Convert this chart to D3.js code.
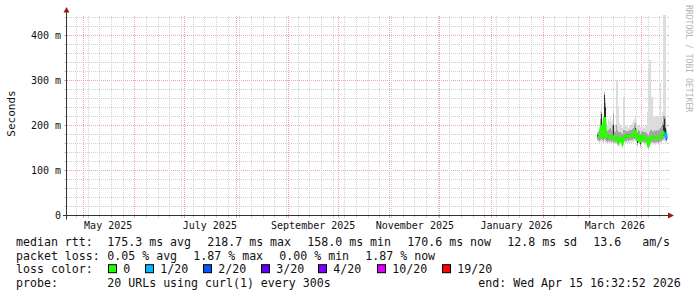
<!DOCTYPE html>
<html><head><meta charset="utf-8">
<script src="https://cdn.jsdelivr.net/npm/d3@7"></script>
<style>
html,body{margin:0;padding:0;background:#fff;}
svg{display:block;}
text{font-family:"DejaVu Sans Mono",monospace;}
</style>
</head><body>
<svg id="c" width="697" height="297"></svg>
<script>
// ---------- data ----------
const endTime = new Date(Date.UTC(2026, 3, 15, 16, 32, 52));
const spanDays = 360;
const dataStart = new Date(Date.UTC(2026, 2, 5, 6, 56, 52)); // first consolidated sample
const stepHours = 14.4;
const yMaxSec = 0.4444;

// median rtt (ms) per consolidated step
const median = [
 176,175,176,178,200,177,176,218.7,180,175,
 174,175,176,175,174,176,170,172,174,173,
 166,163,168,172,170,163,171,175,176,176,
 177,176,177,178,177,178,180,185,187,176,
 166,175,176,162,172,176,174,171,173,170,
 162,158,165,172,174,173,172,173,172,174,
 173,172,174,175,176,180,185,186,184,170.6];
// smoke bands (ms): inner, middle, outer (min/max)
const innerLo = [
 174,173,173,175,176,174,173,176,175,172,
 171,172,173,172,171,173,167,169,171,170,
 162,160,165,169,167,158,168,172,173,173,
 174,173,174,175,174,175,176,177,178,171,
 160,171,173,158,168,173,171,168,170,167,
 157,154,161,169,171,170,169,170,169,171,
 170,169,171,172,173,175,177,178,173,168];
const innerHi = [
 178,177,179,188,226,188,179,268,240,178,
 177,178,179,178,177,180,200,175,177,176,
 170,166,171,175,173,166,174,178,179,179,
 180,179,180,181,180,182,185,190,194,180,
 170,178,179,168,175,179,177,174,176,173,
 166,163,168,175,177,176,175,176,175,177,
 176,175,177,178,180,188,200,215,195,178];
const midLo = [
 168,167,166,168,170,168,166,170,168,165,
 164,165,166,165,164,166,162,163,164,163,
 158,156,160,163,161,154,162,165,166,166,
 167,166,167,168,167,168,169,170,171,165,
 156,164,166,154,162,166,164,162,163,161,
 153,150,156,162,164,163,162,163,162,164,
 163,162,164,165,166,168,170,172,168,165];
const midHi = [
 184,186,190,215,230,200,188,272,250,190,
 188,190,192,195,190,200,227,188,186,200,
 190,185,185,186,184,180,190,190,188,188,
 188,187,190,190,189,192,195,200,205,192,
 185,190,188,182,186,188,186,185,186,184,
 180,178,185,190,190,188,186,190,188,190,
 188,190,192,195,198,205,220,220,218,190];
const outLo = [
 165,163,162,163,165,163,162,165,164,160,
 160,160,161,160,159,161,158,158,160,158,
 154,152,155,158,156,150,157,160,161,161,
 162,161,162,163,162,163,164,165,166,160,
 152,159,161,150,157,161,159,157,158,156,
 149,146,152,157,159,158,157,158,157,159,
 158,157,159,160,161,163,165,166,164,162];
const outHi = [
 188,190,196,232,240,210,196,276,260,205,
 200,215,210,218,205,212,232,200,198,300,
 300,240,205,200,198,195,263,263,200,198,
 196,195,200,202,198,205,210,215,218,205,
 200,200,198,196,198,198,196,195,198,200,
 230,325,345,345,263,263,220,218,218,220,
 218,220,222,294,222,230,445,445,445,200];
// lost pings out of 20 per step
const lossCount = [
 0,0,0,0,0,0,0,0,0,0, 0,0,0,0,0,0,0,0,0,0,
 0,0,0,0,0,0,0,0,0,0, 0,0,0,0,0,0,0,0,0,0,
 0,0,0,0,0,0,0,0,0,0, 0,0,0,0,0,0,0,0,0,0,
 0,0,0,0,0,0,0,0,1,1];

const yTicks = [0, 0.1, 0.2, 0.3, 0.4];
const yTickLabels = ["0", "100 m", "200 m", "300 m", "400 m"];
const xLabelDates = ["2025-05-01","2025-07-01","2025-09-01","2025-11-01","2026-01-01","2026-03-01"];
const xLabelTexts = ["May 2025","July 2025","September 2025","November 2025","January 2026","March 2026"];

const lossLabels = ["0","1/20","2/20","3/20","4/20","10/20","19/20"];
const lossColors = ["#26ff00","#00b8ff","#0059ff","#5e00ff","#7e00ff","#dd00ff","#ff0000"];
const lossThresh = [0,1,2,3,4,10,19];

const rttStats = ["175.3 ms avg","218.7 ms max","158.0 ms min","170.6 ms now","12.8 ms sd","13.6   am/s"];
const lossStats = ["0.05 % avg","1.87 % max","0.00 % min","1.87 % now"];
const probeText = "20 URLs using curl(1) every 300s";
const endText = "end: Wed Apr 15 16:32:52 2026";

// ---------- drawing ----------
const svg = d3.select("#c");
const startTime = new Date(endTime.getTime() - spanDays*864e5);
const L = 66, R = 666, B = 215.5, T = 15.5;
const x = d3.scaleUtc().domain([startTime, endTime]).range([L, R]);
const y = d3.scaleLinear().domain([0, yMaxSec]).range([B, T]);
const stepMs = stepHours*3600e3;
const times = median.map((_, i) => new Date(dataStart.getTime() + i*stepMs));

const gGrid = svg.append("g").attr("shape-rendering", "crispEdges");
const minorCol = "#d2d2d2", majorCol = "#eda6a6";
// horizontal grid
d3.range(1, 23).map(k => k*0.02).forEach(v => {
  const isMajor = Math.abs(v*10 - Math.round(v*10)) < 1e-6;
  const yy = Math.floor(y(v)) + 0.5;
  const c = isMajor ? majorCol : minorCol;
  gGrid.append("line").attr("x1", L+1).attr("x2", R+1).attr("y1", yy).attr("y2", yy)
    .attr("stroke", c).attr("stroke-dasharray", "1,1");
  gGrid.append("line").attr("x1", L-2).attr("x2", L).attr("y1", yy).attr("y2", yy).attr("stroke", c);
  gGrid.append("line").attr("x1", R+1).attr("x2", R+3).attr("y1", yy).attr("y2", yy).attr("stroke", c);
});
// vertical grid
const weeks = d3.utcSunday.range(startTime, endTime);
const months = d3.utcMonth.range(startTime, endTime);
const monthSet = new Set(months.map(d => Math.floor(x(d))));
weeks.forEach(d => {
  const xx = Math.floor(x(d)) + 0.5;
  if (monthSet.has(Math.floor(x(d)))) return;
  gGrid.append("line").attr("x1", xx).attr("x2", xx).attr("y1", T).attr("y2", B)
    .attr("stroke", minorCol).attr("stroke-dasharray", "1,1");
  gGrid.append("line").attr("x1", xx).attr("x2", xx).attr("y1", B).attr("y2", B+2).attr("stroke", minorCol);
});
months.forEach(d => {
  const xx = Math.floor(x(d)) + 0.5;
  gGrid.append("line").attr("x1", xx).attr("x2", xx).attr("y1", T).attr("y2", B)
    .attr("stroke", majorCol).attr("stroke-dasharray", "1,1");
  gGrid.append("line").attr("x1", xx).attr("x2", xx).attr("y1", B).attr("y2", B+2).attr("stroke", majorCol);
});

// smoke
const gSmoke = svg.append("g").attr("shape-rendering", "crispEdges");
function band(lo, hi, col) {
  gSmoke.selectAll(null).data(times).enter().append("rect")
    .attr("x", (d) => x(d))
    .attr("width", (d) => x(new Date(d.getTime()+stepMs)) - x(d))
    .attr("y", (d, i) => y(hi[i]/1000))
    .attr("height", (d, i) => y(lo[i]/1000) - y(hi[i]/1000))
    .attr("fill", col);
}
band(outLo, outHi, "#dcdcdc");
band(midLo, midHi, "#a4a4a4");
band(innerLo, innerHi, "#2a2a2a");

// median line colored by loss
function lossIdx(c) { let k = 0; lossThresh.forEach((t, j) => { if (c >= t) k = j; }); return k; }
const pts = times.map((d, i) => ({x: x(d) + (x(new Date(d.getTime()+stepMs)) - x(d))/2, v: median[i]/1000, c: lossIdx(lossCount[i])}));
const line = d3.line().x(p => p.x).y(p => y(p.v));
let seg = [pts[0]];
const segs = [];
for (let i = 1; i < pts.length; i++) {
  if (pts[i].c === pts[i-1].c) seg.push(pts[i]);
  else { segs.push(seg); seg = [pts[i]]; }
}
segs.push(seg);
segs.forEach(s => {
  svg.append("path").attr("d", s.length > 1 ? line(s) : `M${s[0].x-0.5},${y(s[0].v)}h1`)
    .attr("fill", "none").attr("stroke", lossColors[s[0].c]).attr("stroke-width", 3);
});

// axes
const axisCol = "#333", arrowCol = "#9b1b1b";
svg.append("line").attr("x1", L-3).attr("x2", R+4).attr("y1", B).attr("y2", B).attr("stroke", axisCol);
svg.append("line").attr("x1", L+0.5).attr("x2", L+0.5).attr("y1", B+4).attr("y2", T-4).attr("stroke", axisCol);
svg.append("path").attr("d", `M${R+2},${B-3}L${R+8},${B}L${R+2},${B+3}Z`).attr("fill", arrowCol);
svg.append("path").attr("d", `M${L-2.5},${T-3}L${L+0.5},${T-8.5}L${L+3.5},${T-3}Z`).attr("fill", arrowCol);

// y labels
yTicks.forEach((v, i) => {
  svg.append("text").attr("x", 61).attr("y", y(v) + 3.6).attr("text-anchor", "end")
    .attr("font-size", "10px").attr("fill", "#111").text(yTickLabels[i]);
});
// x labels
xLabelDates.forEach((s, i) => {
  const d = d3.utcDay.offset(new Date(s + "T00:00:00Z"), 15);
  svg.append("text").attr("x", x(d)).attr("y", 228.5).attr("text-anchor", "middle")
    .attr("font-size", "10px").attr("fill", "#111").text(xLabelTexts[i]);
});
// axis title
svg.append("text").attr("transform", "translate(15,113.5) rotate(-90)").attr("text-anchor", "middle")
  .attr("font-size", "11px").attr("fill", "#111").text("Seconds");
// watermark
svg.append("text").attr("transform", "translate(686,5) rotate(90)").attr("text-anchor", "start")
  .attr("font-size", "8.1px").attr("fill", "#b4b4b4").text("RRDTOOL / TOBI OETIKER");

// legend
const lg = svg.append("g").attr("font-size", "11.6px").attr("fill", "#111");
const rowY = [246, 259.6, 273.2, 286.8];
function row(label, items, yy) {
  lg.append("text").attr("x", 16).attr("y", yy).text(label);
  let xx = 107.3;
  items.forEach(s => {
    lg.append("text").attr("x", xx).attr("y", yy).style("white-space", "pre").text(s);
    xx += s.length*7 + 16;
  });
}
row("median rtt:", rttStats, rowY[0]);
row("packet loss:", lossStats, rowY[1]);
lg.append("text").attr("x", 16).attr("y", rowY[2]).text("loss color:");
const swX = [108.5, 145.5, 203.5, 261.5, 318.5, 377.5, 442.5];
lossLabels.forEach((s, i) => {
  lg.append("rect").attr("x", swX[i]).attr("y", rowY[2]-8.5).attr("width", 8).attr("height", 8)
    .attr("fill", lossColors[i]).attr("stroke", "#000").attr("stroke-width", 1);
  lg.append("text").attr("x", swX[i] + 14.8).attr("y", rowY[2]).text(s);
});
lg.append("text").attr("x", 16).attr("y", rowY[3]).text("probe:");
lg.append("text").attr("x", 107.3).attr("y", rowY[3]).text(probeText);
lg.append("text").attr("x", 478.3).attr("y", rowY[3]).text(endText);
</script>
</body></html>
